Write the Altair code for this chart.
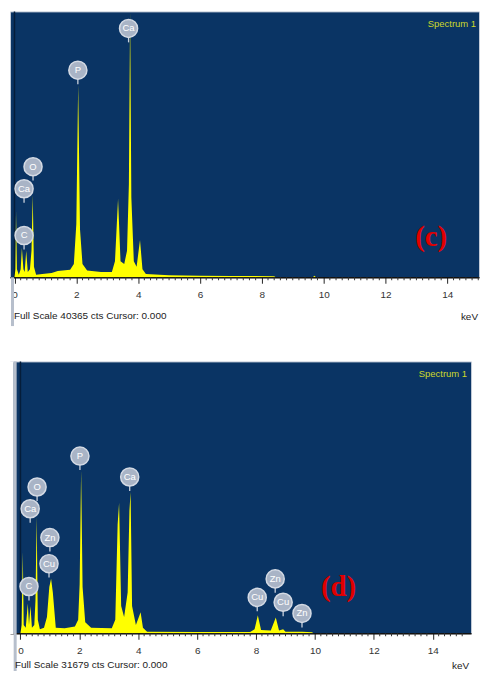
import altair as alt
import pandas as pd

# ---------------- data ----------------
# Panel (c) spectrum
KEV_C = [0.00, 0.03, 0.05, 0.08, 0.14, 0.20, 0.24, 0.29, 0.33, 0.38,
         0.43, 0.50, 0.55, 0.59, 0.63, 0.70, 0.90, 1.20, 1.40, 1.80,
         1.92, 2.00, 2.06, 2.12, 2.20, 2.35, 2.80, 3.15, 3.25, 3.35,
         3.43, 3.55, 3.64, 3.70, 3.74, 3.78, 3.86, 3.95, 4.06, 4.14,
         4.25, 5.00, 6.00, 7.00, 8.40, 8.45, 9.65, 9.70, 9.75, 15.30]
CTS_C = [0, 1210, 10090, 1210, 400, 1210, 4440, 1210, 810, 4040,
         810, 1210, 4040, 12510, 1610, 400, 480, 650, 970, 1130,
         2020, 8070, 29260, 7270, 2020, 1010, 810, 810, 2420, 11910,
         2420, 2020, 4040, 14130, 40365, 12110, 2420, 1610, 5650, 1210,
         480, 320, 240, 200, 160, 0, 0, 240, 0, 0]
FULL_C = 40365

# Panel (d) spectrum
KEV_D = [0.00, 0.04, 0.08, 0.11, 0.18, 0.25, 0.29, 0.34, 0.39, 0.47,
         0.51, 0.55, 0.59, 0.66, 0.80, 0.90, 0.98, 1.04, 1.10, 1.20,
         1.50, 1.85, 1.96, 2.01, 2.06, 2.11, 2.20, 2.40, 3.10, 3.22,
         3.30, 3.35, 3.42, 3.52, 3.64, 3.70, 3.74, 3.79, 3.92, 4.08,
         4.16, 4.30, 6.00, 7.80, 7.95, 8.06, 8.17, 8.50, 8.67, 8.78,
         8.92, 9.00, 9.57, 9.90, 9.95, 15.40]
CTS_D = [0, 950, 9500, 950, 630, 3480, 950, 3170, 630, 950,
         3800, 13620, 1580, 480, 630, 1900, 5390, 6340, 4750, 630,
         570, 790, 1580, 5700, 19010, 5390, 1270, 630, 570, 1580,
         12670, 15210, 3170, 1900, 4750, 14260, 16470, 3170, 950, 2440,
         630, 190, 160, 160, 480, 2090, 380, 320, 1840, 320,
         480, 190, 190, 130, 0, 0]
FULL_D = 31679

# Peak labels
LBL_C_TEXT = ["Ca", "P", "O", "Ca", "C"]
LBL_C_KEV = [3.69, 2.05, 0.60, 0.31, 0.31]
LBL_C_CTS = [37780, 31440, 16790, 13440, 6340]

LBL_D_TEXT = ["P", "Ca", "O", "Ca", "Zn", "Cu", "C", "Cu", "Zn", "Cu", "Zn"]
LBL_D_KEV = [2.02, 3.71, 0.565, 0.33, 1.00, 0.97, 0.29, 8.04, 8.65, 8.92, 9.56]
LBL_D_CTS = [20650, 18215, 17045, 14510, 11150, 8110, 5450, 4180, 6335, 3610, 2310]

MAJOR_TICKS = [0, 2, 4, 6, 8, 10, 12, 14]
MINOR_TICKS = [round(i * 0.2, 1) for i in range(0, 76) if i % 10 != 0]

BLUE = "#0a3464"
YELLOW = "#ffff00"
BUBBLE = "#a9b4c6"


def panel(kev, cts, full, lbl_text, lbl_kev, lbl_cts, width, height, xdom,
          tag, tag_x, spec_x, fs_x, fs_dy, kev_x, bar_x, bar_y, bar_y2, white_w):
    spec = pd.DataFrame({"keV": kev, "cts": cts})
    lbl = pd.DataFrame({"keV": lbl_kev, "cts": lbl_cts, "el": lbl_text})
    minor = pd.DataFrame({"keV": [v for v in MINOR_TICKS if xdom[0] <= v <= xdom[1]]})
    xscale = alt.Scale(domain=xdom, nice=False, zero=False)
    yscale = alt.Scale(domain=[0, full], nice=False, zero=True)
    xaxis = alt.Axis(
        values=MAJOR_TICKS, title=None, grid=False, format="d",
        tickSize=6, tickColor="#222222", domainColor="#111111", domainWidth=1.5,
        labelColor="#333333", labelFont="Liberation Sans", labelFontSize=10,
        labelPadding=6, labelOverlap=False, labelFlush=False)

    X = lambda: alt.X("keV:Q", scale=xscale, axis=xaxis)
    Y = lambda: alt.Y("cts:Q", scale=yscale, axis=None)

    area = alt.Chart(spec).mark_area(color=YELLOW, interpolate="linear", clip=True).encode(
        x=X(), y=Y())
    zero = alt.Chart(pd.DataFrame({"keV": [0.0]})).mark_rule(color="#051d3a", strokeWidth=1.5).encode(
        x=X(), y=alt.value(0), y2=alt.value(height))
    minor_ticks = alt.Chart(minor).mark_rule(color="#333333", strokeWidth=1).encode(
        x=X(), y=alt.value(height), y2=alt.value(height + 3))
    stems = alt.Chart(lbl).mark_rule(color="#c9d0dc", strokeWidth=1.3, yOffset=9, y2Offset=14).encode(
        x=X(), y=Y(), y2="cts:Q")
    bubbles = alt.Chart(lbl).mark_point(filled=True, shape="circle", size=330, color=BUBBLE,
                                         opacity=1, stroke="#d4dae4", strokeWidth=1.5).encode(
        x=X(), y=Y())
    texts = alt.Chart(lbl).mark_text(color="white", fontSize=9.5, font="Liberation Sans").encode(
        x=X(), y=Y(), text="el:N")

    one = pd.DataFrame({"t": [0]})
    spectrum = alt.Chart(one).mark_text(text="Spectrum 1", color="#cdd92a", fontSize=9.5,
                                        font="Liberation Sans", align="right", baseline="middle").encode(
        x=alt.value(spec_x), y=alt.value(13))
    tagmark = alt.Chart(one).mark_text(text=tag, color="#e00000", fontSize=29, fontWeight="bold",
                                       font="Liberation Serif", align="center", baseline="middle").encode(
        x=alt.value(tag_x), y=alt.value(227))
    fs = alt.Chart(one).mark_text(text=f"Full Scale {full} cts Cursor: 0.000", color="#222222",
                                  fontSize=10, font="Liberation Sans", align="left",
                                  baseline="middle").encode(
        x=alt.value(fs_x), y=alt.value(height + fs_dy))
    kevt = alt.Chart(one).mark_text(text="keV", color="#222222", fontSize=10, font="Liberation Sans",
                                    align="right", baseline="middle").encode(
        x=alt.value(kev_x), y=alt.value(height + fs_dy + 1))
    layers = [zero, area, minor_ticks, stems, bubbles, texts, spectrum, tagmark]
    if white_w > 0:
        white = alt.Chart(one).mark_rule(color="white", strokeWidth=white_w).encode(
            x=alt.value(white_w / 2), y=alt.value(0), y2=alt.value(height + 1))
        layers.append(white)
    bar = alt.Chart(one).mark_rule(color="#b7bfcc", strokeWidth=3).encode(
        x=alt.value(bar_x), y=alt.value(bar_y), y2=alt.value(bar_y2))
    layers += [bar, fs, kevt]
    return alt.layer(*layers).properties(width=width, height=height)


chart_c = panel(KEV_C, CTS_C, FULL_C, LBL_C_TEXT, LBL_C_KEV, LBL_C_CTS,
                width=471, height=267, xdom=[-0.145, 15.024], tag="(c)", tag_x=423,
                spec_x=468, fs_x=4, fs_dy=39, kev_x=470, bar_x=2.5, bar_y=267, bar_y2=316,
                white_w=0)
chart_d = panel(KEV_D, CTS_D, FULL_D, LBL_D_TEXT, LBL_D_KEV, LBL_D_CTS,
                width=463, height=273, xdom=[-0.355, 15.30], tag="(d)", tag_x=330,
                spec_x=459, fs_x=5, fs_dy=32, kev_x=461, bar_x=5.2, bar_y=0, bar_y2=311,
                white_w=3.7)

chart = alt.vconcat(chart_c, chart_d, spacing=30.5).properties(
    padding={"top": 0, "left": 1, "right": 0, "bottom": 0},
    background="white",
).configure_view(fill=BLUE, stroke="#c4ccd8", strokeWidth=1)

chart.save("out.html", embed_options={"renderer": "svg", "actions": False})
